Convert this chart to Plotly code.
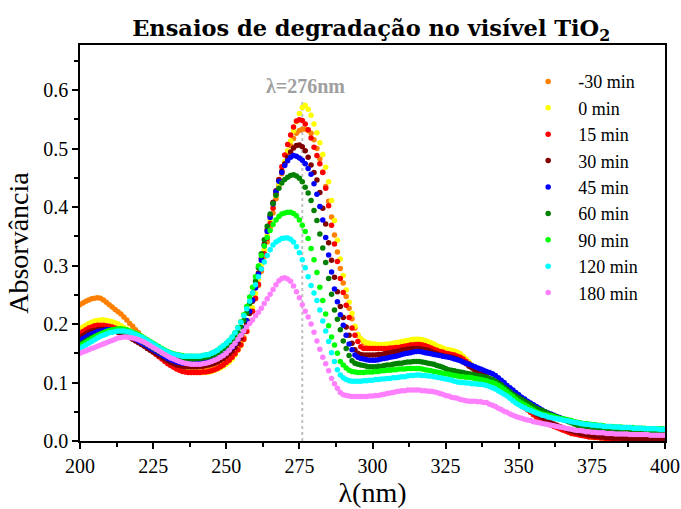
import plotly.graph_objects as go

# Wavelength grid (nm), one reading per nanometre
wavelengths = list(range(200, 401))

# Absorbance readings, in thousandths of absorbance unit, 200..400 nm
abs_m30 = [
    233, 236, 239, 241, 243, 244, 245, 244, 241, 237,
    233, 229, 225, 221, 217, 212, 207, 201, 196, 190,
    185, 179, 173, 167, 162, 158, 154, 150, 146, 142,
    138, 135, 132, 129, 126, 124, 122, 121, 120, 120,
    120, 120, 121, 121, 122, 123, 125, 127, 130, 133,
    137, 141, 146, 152, 159, 167, 177, 189, 204, 222,
    243, 266, 290, 315, 340, 365, 390, 414, 436, 457,
    475, 491, 505, 517, 526, 531, 533, 533, 531, 526,
    515, 500, 482, 460, 435, 410, 383, 352, 323, 295,
    270, 247, 227, 209, 193, 181, 174, 169, 166, 164,
    163, 163, 162, 162, 162, 163, 163, 164, 165, 166,
    167, 168, 169, 170, 171, 171, 171, 170, 169, 167,
    165, 163, 160, 158, 156, 155, 154, 153, 152, 150,
    147, 143, 138, 133, 128, 123, 118, 114, 111, 108,
    105, 102, 99, 96, 93, 89, 85, 81, 77, 72,
    67, 62, 58, 54, 50, 46, 42, 39, 36, 33,
    30, 28, 26, 24, 22, 20, 18, 16, 14, 13,
    12, 11, 10, 9, 8, 7, 7, 6, 6, 5,
    5, 5, 4, 4, 4, 4, 3, 3, 3, 3,
    3, 3, 3, 3, 3, 3, 3, 3, 3, 3,
    3,
]

abs_0 = [
    192, 195, 198, 201, 203, 205, 206, 207, 207, 206,
    205, 204, 202, 200, 197, 194, 191, 187, 184, 180,
    176, 172, 168, 164, 160, 157, 153, 149, 145, 141,
    137, 133, 130, 127, 124, 121, 119, 118, 117, 117,
    117, 117, 117, 118, 118, 119, 121, 123, 125, 128,
    131, 135, 140, 147, 155, 163, 173, 187, 205, 228,
    252, 277, 302, 327, 352, 377, 400, 420, 440, 460,
    478, 496, 513, 530, 546, 560, 570, 574, 567, 557,
    542, 527, 510, 490, 468, 443, 411, 377, 343, 311,
    283, 258, 237, 218, 196, 182, 175, 171, 168, 167,
    166, 166, 165, 165, 165, 166, 166, 167, 168, 169,
    170, 171, 172, 173, 174, 174, 174, 173, 172, 170,
    168, 166, 163, 161, 159, 157, 156, 155, 154, 152,
    149, 145, 140, 135, 130, 125, 120, 116, 113, 110,
    106, 103, 100, 97, 94, 90, 86, 82, 78, 73,
    68, 63, 58, 54, 50, 46, 42, 39, 36, 33,
    30, 28, 26, 24, 22, 20, 18, 16, 14, 13,
    12, 11, 10, 9, 8, 7, 7, 6, 6, 5,
    5, 5, 4, 4, 4, 4, 3, 3, 3, 3,
    3, 3, 3, 3, 3, 3, 3, 3, 3, 3,
    3,
]

abs_15 = [
    184, 187, 190, 193, 195, 197, 198, 198, 198, 197,
    196, 195, 193, 191, 189, 187, 184, 181, 178, 175,
    172, 168, 164, 160, 156, 152, 148, 144, 140, 136,
    132, 129, 126, 123, 121, 119, 118, 117, 117, 117,
    117, 117, 118, 118, 119, 120, 122, 124, 127, 130,
    134, 138, 143, 149, 156, 164, 174, 187, 203, 222,
    244, 268, 294, 320, 346, 372, 398, 423, 447, 469,
    489, 507, 523, 537, 547, 549, 548, 542, 532, 518,
    502, 488, 474, 459, 432, 402, 369, 337, 307, 278,
    254, 232, 211, 193, 181, 170, 161, 158, 158, 158,
    158, 158, 158, 158, 158, 158, 159, 159, 160, 160,
    161, 162, 163, 164, 164, 165, 165, 164, 163, 161,
    159, 157, 155, 153, 152, 150, 149, 148, 147, 145,
    143, 140, 136, 132, 128, 124, 120, 116, 113, 110,
    107, 104, 101, 98, 94, 90, 86, 82, 77, 72,
    67, 62, 57, 53, 49, 45, 41, 38, 35, 32,
    29, 27, 25, 23, 21, 19, 17, 15, 13, 12,
    11, 10, 9, 8, 7, 7, 6, 6, 5, 5,
    4, 4, 4, 4, 3, 3, 3, 3, 3, 3,
    3, 2, 2, 2, 2, 2, 2, 2, 2, 2,
    2,
]

abs_30 = [
    177, 180, 183, 186, 188, 189, 190, 191, 191, 191,
    190, 189, 188, 186, 184, 182, 180, 177, 174, 171,
    168, 165, 162, 158, 155, 152, 149, 146, 143, 140,
    137, 134, 132, 130, 129, 128, 127, 127, 127, 127,
    127, 128, 128, 129, 130, 131, 133, 135, 138, 141,
    145, 149, 154, 160, 167, 176, 187, 201, 218, 239,
    262, 287, 312, 337, 361, 385, 408, 428, 446, 461,
    474, 485, 494, 501, 505, 506, 503, 496, 485, 472,
    459, 446, 425, 398, 371, 339, 309, 280, 255, 230,
    211, 195, 181, 167, 156, 150, 148, 147, 147, 147,
    147, 147, 148, 148, 149, 150, 151, 152, 153, 154,
    155, 156, 157, 158, 158, 158, 158, 157, 156, 155,
    153, 151, 149, 147, 146, 145, 144, 143, 142, 140,
    138, 135, 132, 128, 125, 121, 118, 115, 112, 109,
    106, 103, 100, 97, 94, 90, 86, 82, 78, 74,
    70, 66, 62, 58, 54, 50, 46, 43, 40, 37,
    34, 31, 29, 27, 25, 23, 21, 19, 17, 16,
    14, 13, 12, 11, 10, 9, 8, 8, 7, 7,
    6, 6, 5, 5, 5, 5, 4, 4, 4, 4,
    4, 4, 4, 4, 3, 3, 3, 3, 3, 3,
    3,
]

abs_45 = [
    172, 175, 178, 181, 183, 185, 187, 188, 189, 190,
    190, 190, 189, 188, 187, 185, 183, 180, 177, 174,
    171, 168, 165, 162, 159, 156, 153, 150, 147, 144,
    141, 139, 137, 135, 134, 133, 133, 133, 133, 133,
    133, 134, 134, 135, 136, 137, 139, 141, 144, 147,
    151, 155, 160, 166, 173, 182, 193, 206, 222, 241,
    262, 285, 309, 334, 358, 382, 405, 426, 444, 459,
    471, 479, 485, 488, 487, 484, 480, 474, 466, 456,
    440, 422, 401, 378, 348, 318, 289, 260, 238, 216,
    198, 181, 166, 156, 147, 143, 141, 140, 139, 138,
    138, 138, 139, 140, 141, 142, 143, 144, 145, 146,
    148, 149, 150, 151, 152, 153, 153, 152, 151, 150,
    149, 148, 147, 146, 145, 144, 143, 142, 140, 139,
    137, 135, 133, 131, 129, 127, 125, 123, 121, 119,
    117, 115, 112, 108, 104, 100, 95, 91, 87, 83,
    79, 75, 72, 68, 65, 62, 59, 56, 53, 50,
    48, 46, 44, 42, 40, 38, 36, 35, 33, 32,
    31, 30, 29, 28, 27, 26, 25, 24, 24, 23,
    23, 22, 22, 21, 21, 21, 20, 20, 20, 19,
    19, 19, 19, 18, 18, 18, 18, 18, 17, 17,
    17,
]

abs_60 = [
    165, 168, 171, 174, 177, 179, 181, 183, 185, 186,
    187, 188, 188, 188, 187, 186, 184, 182, 180, 177,
    174, 171, 168, 165, 162, 159, 156, 153, 150, 148,
    146, 144, 143, 142, 141, 141, 140, 140, 140, 140,
    141, 141, 142, 143, 144, 146, 148, 151, 154, 158,
    162, 167, 172, 178, 186, 195, 206, 219, 235, 253,
    273, 296, 320, 344, 367, 388, 406, 420, 432, 441,
    447, 451, 454, 455, 453, 449, 443, 434, 424, 411,
    394, 377, 354, 330, 305, 278, 251, 224, 208, 190,
    171, 158, 146, 137, 133, 131, 130, 129, 128, 127,
    127, 127, 128, 128, 129, 130, 130, 131, 132, 133,
    133, 134, 135, 135, 136, 136, 136, 135, 134, 133,
    132, 131, 129, 128, 126, 124, 122, 121, 120, 119,
    118, 117, 116, 115, 114, 113, 112, 111, 110, 109,
    107, 105, 102, 99, 96, 92, 88, 84, 80, 77,
    74, 71, 68, 65, 62, 59, 56, 54, 52, 50,
    47, 45, 43, 41, 39, 37, 35, 33, 31, 29,
    27, 25, 24, 22, 21, 20, 19, 18, 17, 17,
    17, 16, 16, 16, 16, 15, 15, 15, 15, 15,
    15, 15, 14, 14, 14, 14, 14, 14, 14, 14,
    14,
]

abs_90 = [
    163, 166, 169, 172, 175, 178, 181, 183, 185, 187,
    189, 190, 191, 192, 192, 191, 190, 188, 186, 184,
    182, 179, 176, 173, 170, 167, 164, 161, 158, 155,
    153, 151, 149, 148, 147, 146, 145, 145, 145, 145,
    145, 145, 146, 147, 148, 150, 152, 155, 159, 163,
    167, 172, 178, 185, 194, 204, 216, 230, 246, 263,
    281, 299, 317, 334, 348, 360, 370, 378, 384, 388,
    390, 391, 391, 389, 385, 378, 369, 358, 346, 329,
    310, 288, 263, 240, 217, 197, 178, 164, 150, 136,
    130, 125, 121, 119, 118, 117, 117, 117, 118, 118,
    118, 119, 119, 120, 120, 121, 121, 122, 122, 123,
    123, 123, 124, 124, 124, 124, 124, 123, 122, 121,
    120, 119, 118, 117, 116, 115, 114, 113, 112, 111,
    110, 110, 109, 109, 108, 107, 106, 105, 104, 103,
    101, 100, 98, 95, 92, 88, 84, 80, 76, 72,
    68, 65, 62, 59, 56, 53, 50, 48, 46, 45,
    44, 43, 42, 40, 39, 38, 37, 36, 35, 33,
    32, 31, 30, 30, 29, 28, 28, 27, 27, 26,
    25, 25, 25, 24, 24, 24, 23, 23, 23, 23,
    22, 22, 22, 22, 21, 21, 21, 21, 21, 21,
    20,
]

abs_120 = [
    158, 161, 164, 167, 170, 173, 176, 179, 181, 183,
    185, 186, 187, 188, 188, 188, 187, 186, 184, 182,
    180, 178, 175, 172, 169, 166, 163, 160, 157, 154,
    152, 150, 148, 147, 146, 145, 145, 145, 145, 145,
    145, 145, 146, 147, 148, 150, 152, 155, 159, 163,
    167, 172, 178, 185, 193, 203, 214, 226, 239, 253,
    267, 281, 294, 306, 317, 327, 335, 340, 343, 346,
    347, 347, 345, 340, 332, 322, 310, 296, 281, 266,
    253, 240, 224, 205, 188, 170, 151, 136, 122, 113,
    108, 105, 103, 102, 102, 102, 102, 103, 103, 104,
    104, 105, 105, 106, 106, 107, 107, 108, 108, 109,
    110, 110, 111, 112, 112, 113, 113, 112, 112, 111,
    111, 110, 109, 108, 107, 106, 105, 104, 102, 101,
    100, 100, 99, 99, 98, 98, 97, 97, 96, 95,
    93, 91, 89, 86, 83, 80, 77, 73, 69, 65,
    62, 59, 57, 54, 52, 50, 48, 46, 44, 43,
    41, 40, 39, 38, 37, 36, 35, 34, 33, 32,
    31, 30, 29, 28, 28, 27, 27, 26, 26, 25,
    25, 25, 24, 24, 24, 23, 23, 23, 23, 22,
    22, 22, 22, 21, 21, 21, 21, 21, 20, 20,
    20,
]

abs_180 = [
    150, 152, 154, 156, 158, 160, 162, 164, 166, 168,
    170, 172, 174, 176, 177, 178, 178, 177, 176, 175,
    173, 171, 169, 166, 163, 160, 157, 154, 151, 148,
    145, 142, 140, 138, 136, 134, 133, 132, 131, 131,
    131, 131, 132, 133, 134, 136, 138, 140, 143, 146,
    150, 155, 161, 167, 174, 181, 188, 195, 201, 207,
    214, 220, 227, 235, 243, 251, 259, 267, 274, 278,
    279, 277, 273, 265, 255, 245, 233, 222, 212, 200,
    186, 171, 157, 143, 132, 120, 107, 98, 90, 83,
    79, 78, 77, 76, 76, 76, 76, 76, 76, 77,
    77, 78, 78, 79, 80, 81, 82, 83, 84, 85,
    86, 86, 87, 87, 87, 87, 87, 86, 86, 85,
    85, 84, 83, 81, 80, 78, 77, 75, 74, 73,
    71, 70, 69, 68, 68, 68, 67, 67, 66, 66,
    63, 61, 59, 56, 54, 51, 49, 46, 44, 42,
    40, 39, 37, 36, 35, 33, 32, 31, 30, 29,
    28, 27, 26, 25, 24, 23, 22, 21, 20, 19,
    18, 18, 17, 16, 16, 15, 15, 14, 14, 14,
    13, 13, 13, 12, 12, 12, 12, 12, 11, 11,
    11, 11, 11, 11, 11, 10, 10, 10, 10, 10,
    10,
]

series_labels = ["-30 min", "0 min", "15 min", "30 min", "45 min",
                 "60 min", "90 min", "120 min", "180 min"]
series_values = [abs_m30, abs_0, abs_15, abs_30, abs_45,
                 abs_60, abs_90, abs_120, abs_180]
series_colors = ["#ff8000", "#ffff00", "#ff0000", "#800000", "#0000ff",
                 "#008000", "#00ff00", "#00ffff", "#ff80ff"]

peak_nm = 276
peak_line_top = 0.585

SERIF = "Liberation Serif"
TITLE_FONT = "DejaVu Serif"

fig = go.Figure()

for i, (name, vals, color) in enumerate(zip(series_labels, series_values, series_colors)):
    fig.add_trace(go.Scatter(
        x=wavelengths,
        y=[v / 1000 for v in vals],
        mode="markers",
        name=name,
        marker=dict(color=color, size=5.5, line=dict(width=0)),
    ))

# Dotted marker line at the absorption maximum
fig.add_shape(type="line", xref="x", yref="y",
              x0=peak_nm, x1=peak_nm, y0=0, y1=peak_line_top,
              line=dict(color="#c0c0c0", width=2, dash="dot"),
              layer="below")

fig.add_annotation(x=peak_nm + 1, y=0.607, xref="x", yref="y",
                   text=f"<b>λ={peak_nm}nm</b>", showarrow=False,
                   font=dict(family=SERIF, size=20, color="#a0a0a0"))

axis_common = dict(
    showline=True, linecolor="black", linewidth=1.5, mirror=True,
    ticks="outside", tickcolor="black", ticklen=6, tickwidth=1.5,
    showgrid=False, zeroline=False, automargin=False,
    tickfont=dict(family=SERIF, size=20, color="black"),
)

fig.update_xaxes(
    range=[200, 400], tick0=200, dtick=25,
    minor=dict(ticks="outside", ticklen=4, tickwidth=1.5, tickcolor="black", dtick=12.5),
    title=dict(text="λ(nm)", font=dict(family=SERIF, size=28, color="black"), standoff=6),
    **axis_common,
)
fig.update_yaxes(
    range=[0, 0.677], tick0=0, dtick=0.1, tickformat=".1f",
    minor=dict(ticks="outside", ticklen=4, tickwidth=1.5, tickcolor="black", dtick=0.05),
    title=dict(text="Absorvância", font=dict(family=SERIF, size=28, color="black"), standoff=6),
    **axis_common,
)

fig.update_layout(
    width=681, height=509,
    margin=dict(l=80, r=16, t=45, b=68),
    paper_bgcolor="white", plot_bgcolor="white",
    title=dict(text="<b>Ensaios de degradação no visível TiO<sub>2</sub></b>",
               x=0.545, xanchor="center", y=0.945, yanchor="middle",
               font=dict(family=TITLE_FONT, size=22.5, color="black")),
    legend=dict(x=0.749, y=0.954, xanchor="left", yanchor="top",
                bgcolor="rgba(0,0,0,0)", borderwidth=0,
                font=dict(family=SERIF, size=18, color="black"),
                tracegroupgap=0, itemwidth=50, itemsizing="trace"),
    showlegend=True,
)

fig.write_html("out.html")
